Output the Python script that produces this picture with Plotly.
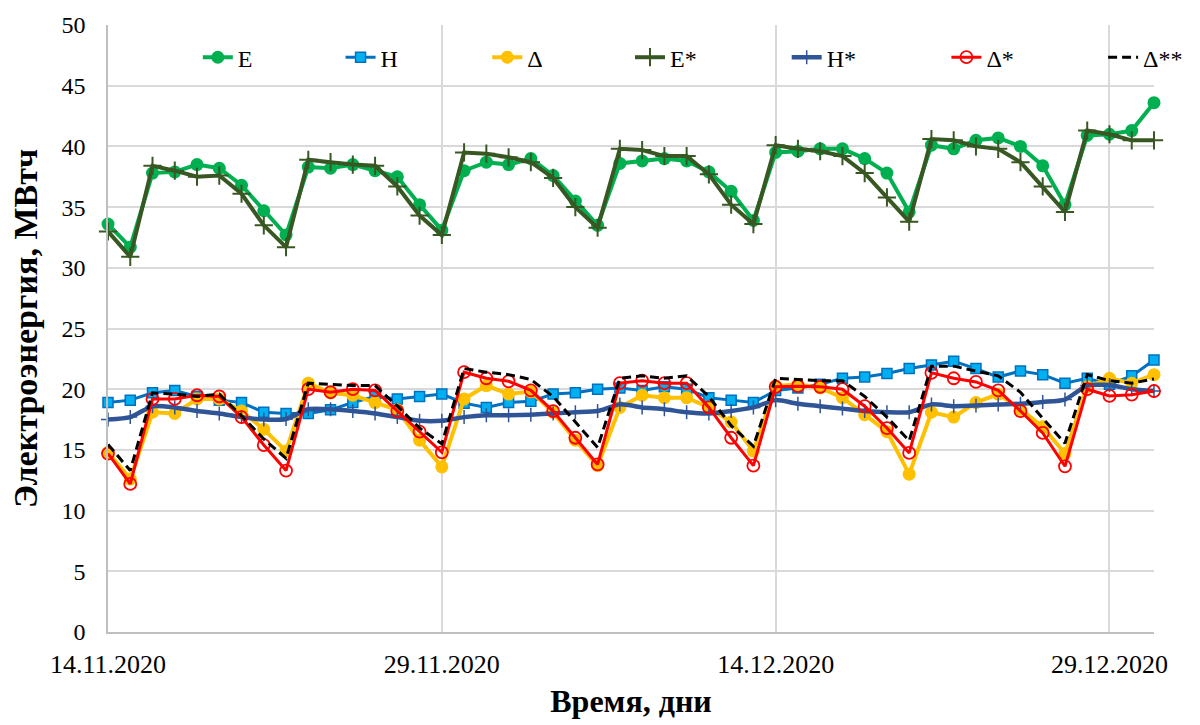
import pandas as pd
import plotly.graph_objects as go

# Daily observation dates, 14.11.2020 .. 31.12.2020
days = pd.date_range("2020-11-14", "2020-12-31", freq="D")

# Electricity, MWh
E = [33.6, 31.7, 37.8, 37.9, 38.5, 38.2, 36.8, 34.7, 32.7, 38.3,
     38.2, 38.5, 38.0, 37.5, 35.2, 33.1, 38.0, 38.7, 38.5, 39.0,
     37.6, 35.5, 33.5, 38.6, 38.8, 39.0, 38.8, 37.9, 36.3, 33.9,
     39.5, 39.6, 39.8, 39.8, 39.0, 37.8, 34.6, 40.1, 39.8, 40.5,
     40.7, 40.0, 38.4, 35.2, 40.9, 41.0, 41.3, 43.6]
H = [18.9, 19.1, 19.7, 19.9, 19.4, 19.1, 18.9, 18.1, 18.0, 18.0,
     18.3, 18.9, 19.4, 19.2, 19.4, 19.6, 18.85, 18.5, 18.9, 19.0,
     19.6, 19.7, 20.0, 20.1, 19.9, 20.2, 20.0, 19.3, 19.1, 18.9,
     19.9, 20.1, 20.4, 20.9, 21.0, 21.3, 21.7, 22.0, 22.3, 21.7,
     21.0, 21.5, 21.2, 20.5, 20.9, 20.4, 21.1, 22.4]
D = [14.8, 12.6, 18.1, 18.0, 19.2, 19.2, 18.2, 16.7, 14.9, 20.5,
     19.7, 19.5, 18.9, 18.3, 15.8, 13.6, 19.2, 20.3, 19.6, 19.8,
     18.1, 15.8, 13.7, 18.5, 19.5, 19.3, 19.3, 18.5, 17.3, 14.9,
     20.25, 20.4, 20.1, 19.3, 17.9, 16.5, 13.0, 18.1, 17.7, 18.9,
     19.6, 18.35, 16.9, 14.7, 20.2, 20.9, 20.5, 21.2]
E_s = [33.0, 30.9, 38.4, 38.0, 37.5, 37.6, 36.1, 33.5, 31.7, 38.9,
       38.7, 38.5, 38.4, 36.7, 34.3, 32.7, 39.5, 39.4, 39.1, 38.7,
       37.4, 35.0, 33.3, 39.8, 39.7, 39.2, 39.2, 37.7, 35.2, 33.6,
       40.1, 39.8, 39.6, 39.2, 37.8, 35.8, 33.8, 40.6, 40.5, 40.0,
       39.8, 38.7, 36.7, 34.6, 41.3, 41.0, 40.5, 40.5]
H_s = [17.5, 17.7, 18.6, 18.5, 18.2, 18.0, 17.7, 17.5, 17.55, 18.35,
       18.35, 18.2, 18.0, 17.7, 17.4, 17.4, 17.7, 17.85, 17.85, 17.9,
       18.0, 18.1, 18.2, 18.75, 18.5, 18.35, 18.1, 18.0, 18.2, 18.5,
       19.1, 18.8, 18.6, 18.4, 18.2, 18.1, 18.1, 18.75, 18.6, 18.65,
       18.75, 18.8, 18.95, 19.15, 20.3, 20.35, 20.0, 19.85]
D_s = [14.7, 12.2, 19.2, 19.2, 19.5, 19.4, 17.7, 15.4, 13.3, 20.0,
       19.75, 20.0, 19.9, 18.2, 16.5, 14.8, 21.4, 20.9, 20.65, 19.9,
       18.2, 16.0, 13.8, 20.5, 20.7, 20.5, 20.5, 18.5, 16.0, 13.7,
       20.2, 20.25, 20.2, 20.0, 18.6, 16.8, 14.75, 21.35, 20.9, 20.6,
       19.9, 18.2, 16.4, 13.65, 20.0, 19.45, 19.55, 19.85]
D_ss = [15.45, 13.3, 19.7, 19.6, 19.4, 19.6, 17.8, 15.9, 14.3, 20.5,
        20.4, 20.3, 20.3, 18.6, 16.8, 15.5, 21.7, 21.4, 21.2, 20.8,
        19.4, 17.3, 15.2, 20.9, 21.1, 20.9, 21.1, 19.4, 17.0, 15.3,
        20.9, 20.8, 20.7, 20.7, 19.4, 17.7, 15.75, 21.9, 21.9, 21.5,
        21.1, 19.75, 17.6, 15.55, 21.2, 20.7, 20.5, 20.85]

FONT = "Times New Roman, Liberation Serif, serif"

fig = go.Figure()

series = [
    dict(name="E", y=E, legend="legend",
         line=dict(color="#00B050", width=4),
         marker=dict(symbol="circle", size=13, color="#00B050")),
    dict(name="H", y=H, legend="legend2",
         line=dict(color="#0070C0", width=3),
         marker=dict(symbol="square", size=10, color="#00B0F0",
                     line=dict(color="#0070C0", width=1.5))),
    dict(name="Δ", y=D, legend="legend3",
         line=dict(color="#FFC000", width=4),
         marker=dict(symbol="circle", size=13, color="#FFC000")),
    dict(name="E*", y=E_s, legend="legend4",
         line=dict(color="#385723", width=4),
         marker=dict(symbol="cross-thin", size=13, color="#385723",
                     line=dict(color="#385723", width=2))),
    dict(name="H*", y=H_s, legend="legend5",
         line=dict(color="#2F5597", width=4.5, shape="spline", smoothing=0.6),
         marker=dict(symbol="cross-thin", size=10, color="#2F5597",
                     line=dict(color="#2F5597", width=1.5))),
    dict(name="Δ*", y=D_s, legend="legend6",
         line=dict(color="#FF0000", width=3),
         marker=dict(symbol="circle-open", size=12, color="#FF0000",
                     line=dict(color="#FF0000", width=1.8))),
    dict(name="Δ**", y=D_ss, legend="legend7",
         line=dict(color="#000000", width=3, dash="9px,5px"),
         marker=None),
]

for s in series:
    mode = "lines" if s["marker"] is None else "lines+markers"
    kw = dict(x=days, y=s["y"], name=s["name"], mode=mode, line=s["line"],
              legend=s["legend"], cliponaxis=False)
    if s["marker"] is not None:
        kw["marker"] = s["marker"]
    fig.add_trace(go.Scatter(**kw))

# Plot area in pixels: left 108, right 1156, top 18, bottom 632
L, R, T, B = 108, 1156, 18, 632
W, Hh = 1200, 725
pw, ph = R - L, B - T


def lx(px):
    return (px - L) / pw


legend_y = (B - 51) / ph
legend_left = [198, 341, 488, 631, 788, 948, 1105]
legend_keys = ["legend", "legend2", "legend3", "legend4", "legend5",
               "legend6", "legend7"]
legend_layouts = {}
for key, px in zip(legend_keys, legend_left):
    legend_layouts[key] = dict(
        x=lx(px), y=legend_y, xanchor="left", yanchor="middle",
        orientation="h", bgcolor="rgba(0,0,0,0)",
        font=dict(family=FONT, size=24, color="#000000"),
        itemwidth=30,
    )

fig.update_layout(
    width=W, height=Hh,
    margin=dict(l=L, r=W - R, t=T, b=Hh - B, pad=0),
    paper_bgcolor="white", plot_bgcolor="white",
    font=dict(family=FONT, color="#000000"),
    showlegend=True,
    **legend_layouts,
)

fig.update_xaxes(
    range=[days[0], days[-1]],
    tick0="2020-11-14", dtick=15 * 86400000, tickformat="%d.%m.%Y",
    showgrid=True, gridcolor="#D9D9D9", gridwidth=1.5,
    showline=True, linecolor="#BFBFBF", linewidth=1.5,
    ticks="", ticklabelstandoff=8,
    tickfont=dict(family=FONT, size=26, color="#000000"),
    title=dict(text="<b>Время, дни</b>", standoff=12,
               font=dict(family=FONT, size=32, color="#000000")),
    zeroline=False,
)
fig.update_yaxes(
    range=[0, 50], dtick=5,
    showgrid=True, gridcolor="#D9D9D9", gridwidth=1.5,
    showline=True, linecolor="#BFBFBF", linewidth=1.5,
    ticks="", ticklabelstandoff=16,
    tickfont=dict(family=FONT, size=24, color="#000000"),
    title=dict(text="<b>Электроэнергия, МВтч</b>", standoff=14,
               font=dict(family=FONT, size=34, color="#000000")),
    zeroline=False,
)

fig.write_html("out.html")
